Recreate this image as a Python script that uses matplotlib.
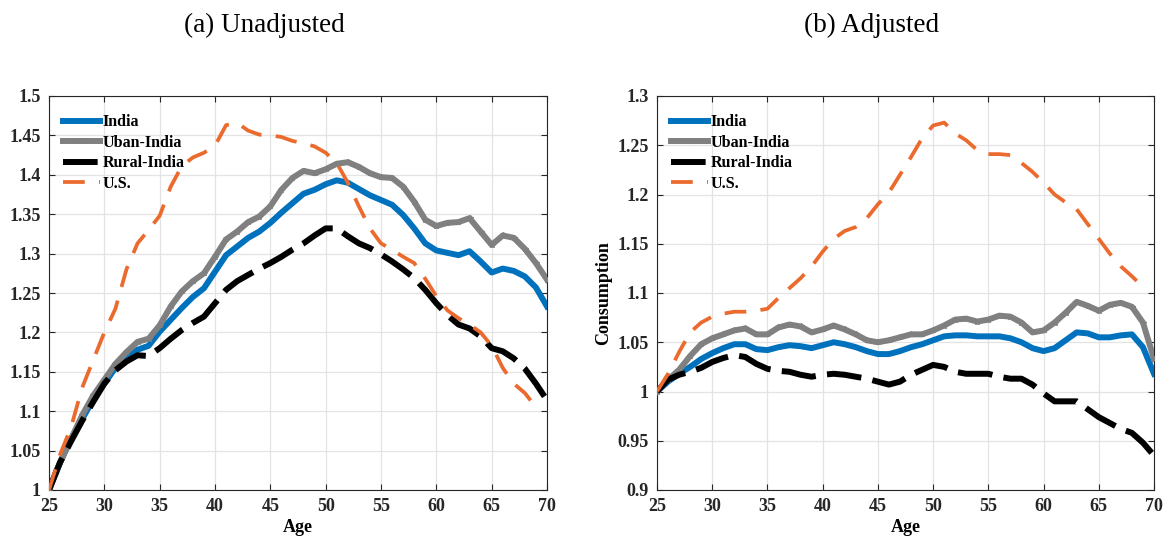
import matplotlib
matplotlib.use("Agg")
import matplotlib.pyplot as plt
import numpy as np
from matplotlib.ticker import FuncFormatter

plt.rcParams['font.family'] = ['Liberation Serif', 'DejaVu Serif']

# ages 25..70
age = np.arange(25, 71)
age_us = np.arange(25, 70)

# (a) unadjusted consumption profiles
india_a = [1.000, 1.035, 1.065, 1.090, 1.115, 1.135, 1.155, 1.168, 1.178, 1.183,
           1.201, 1.216, 1.231, 1.245, 1.256, 1.277, 1.298, 1.309, 1.320, 1.328,
           1.339, 1.352, 1.364, 1.376, 1.381, 1.388, 1.393, 1.390, 1.382, 1.374,
           1.368, 1.362, 1.349, 1.332, 1.313, 1.304, 1.301, 1.298, 1.303, 1.290,
           1.276, 1.281, 1.278, 1.271, 1.257, 1.233]
urban_a = [1.000, 1.035, 1.065, 1.095, 1.120, 1.140, 1.160, 1.175, 1.188, 1.192,
           1.209, 1.233, 1.252, 1.265, 1.275, 1.296, 1.318, 1.328, 1.340, 1.347,
           1.360, 1.381, 1.396, 1.405, 1.402, 1.407, 1.414, 1.416, 1.410, 1.402,
           1.397, 1.396, 1.385, 1.366, 1.343, 1.335, 1.339, 1.340, 1.345, 1.328,
           1.311, 1.323, 1.320, 1.306, 1.288, 1.267]
rural_a = [1.000, 1.035, 1.062, 1.088, 1.112, 1.135, 1.152, 1.163, 1.171, 1.170,
           1.180, 1.192, 1.203, 1.212, 1.220, 1.237, 1.254, 1.265, 1.273, 1.281,
           1.288, 1.296, 1.305, 1.313, 1.323, 1.332, 1.332, 1.322, 1.313, 1.307,
           1.299, 1.290, 1.280, 1.269, 1.254, 1.237, 1.222, 1.210, 1.205, 1.195,
           1.180, 1.176, 1.167, 1.154, 1.135, 1.114]
us_a = [1.000, 1.045, 1.080, 1.130, 1.165, 1.200, 1.230, 1.280, 1.313, 1.330,
        1.348, 1.385, 1.411, 1.422, 1.428, 1.437, 1.463, 1.466, 1.456, 1.451,
        1.450, 1.448, 1.443, 1.440, 1.436, 1.428, 1.415, 1.390, 1.360, 1.332,
        1.313, 1.305, 1.296, 1.288, 1.268, 1.246, 1.228, 1.218, 1.210, 1.200,
        1.183, 1.155, 1.135, 1.123, 1.105]

# (b) adjusted consumption profiles
india_b = [1.000, 1.010, 1.018, 1.025, 1.033, 1.039, 1.044, 1.048, 1.048, 1.043,
           1.042, 1.045, 1.047, 1.046, 1.044, 1.047, 1.050, 1.048, 1.045, 1.041,
           1.038, 1.038, 1.041, 1.045, 1.048, 1.052, 1.056, 1.057, 1.057, 1.056,
           1.056, 1.056, 1.054, 1.050, 1.044, 1.041, 1.044, 1.052, 1.060, 1.059,
           1.055, 1.055, 1.057, 1.058, 1.045, 1.018]
urban_b = [1.000, 1.012, 1.022, 1.036, 1.048, 1.054, 1.058, 1.062, 1.064, 1.058,
           1.058, 1.065, 1.068, 1.066, 1.060, 1.063, 1.067, 1.063, 1.058, 1.052,
           1.050, 1.052, 1.055, 1.058, 1.058, 1.062, 1.067, 1.073, 1.074, 1.071,
           1.073, 1.077, 1.076, 1.070, 1.060, 1.062, 1.070, 1.080, 1.091, 1.087,
           1.082, 1.088, 1.090, 1.086, 1.070, 1.033]
rural_b = [1.000, 1.012, 1.017, 1.020, 1.024, 1.030, 1.034, 1.037, 1.035, 1.028,
           1.023, 1.021, 1.020, 1.017, 1.015, 1.017, 1.018, 1.017, 1.015, 1.013,
           1.010, 1.007, 1.010, 1.017, 1.022, 1.027, 1.025, 1.020, 1.018, 1.018,
           1.018, 1.015, 1.013, 1.013, 1.007, 0.998, 0.990, 0.990, 0.990, 0.982,
           0.974, 0.968, 0.962, 0.958, 0.948, 0.935]
us_b = [1.000, 1.018, 1.040, 1.060, 1.070, 1.076, 1.079, 1.081, 1.081, 1.082,
        1.084, 1.095, 1.105, 1.115, 1.127, 1.142, 1.155, 1.163, 1.167, 1.176,
        1.190, 1.202, 1.220, 1.238, 1.257, 1.270, 1.273, 1.262, 1.255, 1.245,
        1.241, 1.241, 1.240, 1.232, 1.223, 1.212, 1.200, 1.192, 1.185, 1.170,
        1.155, 1.140, 1.127, 1.117, 1.106]

c_india = '#0072BD'
c_urban = '#808080'
c_rural = '#000000'
c_us = '#EB6A2E'

fig = plt.figure(figsize=(11.63, 5.41), dpi=100)
ax1 = fig.add_axes([49/1163, 1-490/541, 498/1163, 394/541])
ax2 = fig.add_axes([657/1163, 1-490/541, 497/1163, 394/541])


def draw(ax, india, urban, rural, us, ylim, yticks):
    ax.plot(age, india, color=c_india, lw=4.3, label='India', zorder=3)
    ax.plot(age, urban, color=c_urban, lw=4.3, marker='*', ms=4,
            label='Uban-India', zorder=3)
    ax.plot(age, rural, color=c_rural, lw=4.3, dashes=(5.8, 1.9),
            dash_capstyle='butt', label='Rural-India', zorder=4)
    ax.plot(age_us, us, color=c_us, lw=2.7, dashes=(5.8, 3.8),
            dash_capstyle='butt', label='U.S.', zorder=5)
    ax.set_xlim(25, 70)
    ax.set_ylim(*ylim)
    ax.set_xticks(np.arange(25, 71, 5))
    ax.set_yticks(yticks)
    ax.yaxis.set_major_formatter(FuncFormatter(lambda v, p: '%g' % round(v, 3)))
    ax.grid(True, color='#e3e3e3', lw=0.9)
    ax.set_axisbelow(True)
    ax.tick_params(direction='in', length=4, width=0.8, top=True, right=True,
                   labelsize=13, colors='#262626', pad=6)
    for lab in ax.get_xticklabels() + ax.get_yticklabels():
        lab.set_fontweight('bold')
    for s in ax.spines.values():
        s.set_color('#262626')
        s.set_linewidth(0.8)
    ax.set_xlabel('Age', fontsize=13, fontweight='bold', labelpad=3)
    leg = ax.legend(loc='upper left', frameon=False, prop={'weight': 'bold', 'size': 11.5},
                    handlelength=2.3, handletextpad=0.15, labelspacing=0.28,
                    borderaxespad=0.5, bbox_to_anchor=(0.0, 0.99))
    return leg


draw(ax1, india_a, urban_a, rural_a, us_a, (1.0, 1.5), np.arange(1.0, 1.501, 0.05))
draw(ax2, india_b, urban_b, rural_b, us_b, (0.9, 1.3), np.arange(0.9, 1.301, 0.05))
ax2.set_ylabel('Consumption', fontsize=13, fontweight='bold', labelpad=4)

fig.text(264/1163, 1-25/541, '(a) Unadjusted', fontsize=19.5, ha='center', va='center')
fig.text(872/1163, 1-25/541, '(b) Adjusted', fontsize=19.5, ha='center', va='center')

fig.savefig('out.png', dpi=100)
